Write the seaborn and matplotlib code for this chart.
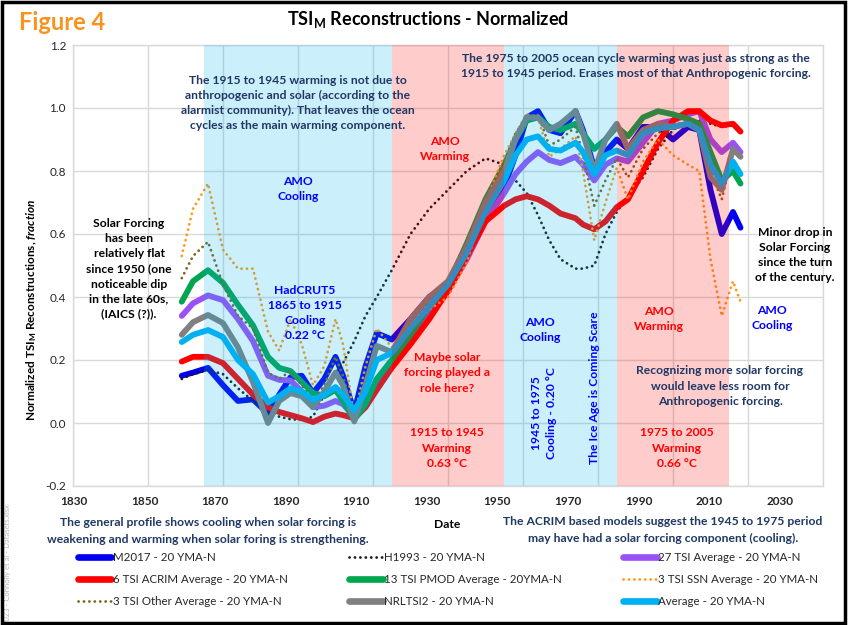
import matplotlib
matplotlib.use("Agg")
import matplotlib.pyplot as plt
import seaborn as sns
import numpy as np
import pandas as pd
from matplotlib.lines import Line2D
from matplotlib.patches import Rectangle

# ---------------- data ----------------
years = [1859, 1862, 1866, 1870, 1874, 1878, 1882, 1885, 1888, 1891, 1894, 1897,
         1900, 1902, 1905, 1908, 1911, 1915, 1920, 1925, 1930, 1935, 1940, 1945,
         1948, 1951, 1954, 1957, 1960, 1964, 1966, 1969, 1972, 1975, 1978, 1982,
         1986, 1990, 1994, 1997, 2000, 2003, 2006, 2008]

m2017 = [0.15, 0.16, 0.175, 0.12, 0.07, 0.075, 0.03, 0.09, 0.145, 0.15, 0.095, 0.14,
         0.21, 0.15, 0.035, 0.18, 0.285, 0.265, 0.33, 0.40, 0.44, 0.53, 0.66, 0.75,
         0.85, 0.97, 0.99, 0.93, 0.92, 0.99, 0.93, 0.81, 0.86, 0.90, 0.87, 0.94,
         0.94, 0.90, 0.94, 0.93, 0.74, 0.60, 0.67, 0.62]

h1993 = [0.14, 0.155, 0.168, 0.155, 0.11, 0.07, 0.04, 0.02, 0.012, 0.01, 0.02, 0.09,
         0.16, 0.19, 0.26, 0.34, 0.40, 0.485, 0.60, 0.68, 0.74, 0.80, 0.84, 0.82,
         0.77, 0.73, 0.66, 0.58, 0.52, 0.49, 0.49, 0.50, 0.60, 0.67, 0.72, 0.78,
         0.87, 0.93, 0.96, 0.96, 0.95, 0.94, 0.945, 0.93]

tsi27 = [0.34, 0.38, 0.405, 0.39, 0.33, 0.26, 0.15, 0.137, 0.135, 0.10, 0.05, 0.055,
         0.07, 0.06, 0.02, 0.07, 0.13, 0.19, 0.27, 0.34, 0.42, 0.52, 0.64, 0.73,
         0.79, 0.83, 0.86, 0.835, 0.825, 0.845, 0.82, 0.77, 0.82, 0.84, 0.83, 0.89,
         0.95, 0.96, 0.98, 0.99, 0.90, 0.86, 0.89, 0.86]

acrim = [0.195, 0.21, 0.21, 0.19, 0.14, 0.09, 0.05, 0.035, 0.025, 0.015, 0.003, 0.02,
         0.03, 0.025, 0.015, 0.05, 0.105, 0.175, 0.25, 0.33, 0.42, 0.53, 0.64, 0.69,
         0.71, 0.72, 0.71, 0.69, 0.665, 0.65, 0.63, 0.615, 0.64, 0.685, 0.71, 0.80,
         0.89, 0.96, 0.99, 0.99, 0.96, 0.945, 0.95, 0.925]

pmod = [0.385, 0.45, 0.485, 0.445, 0.375, 0.31, 0.21, 0.175, 0.165, 0.13, 0.095, 0.085,
        0.105, 0.07, 0.01, 0.06, 0.14, 0.20, 0.28, 0.37, 0.44, 0.57, 0.71, 0.82,
        0.90, 0.96, 0.97, 0.94, 0.93, 0.95, 0.92, 0.87, 0.90, 0.94, 0.91, 0.97,
        0.99, 0.98, 0.965, 0.95, 0.86, 0.77, 0.80, 0.76]

ssn = [0.53, 0.68, 0.76, 0.55, 0.49, 0.49, 0.29, 0.23, 0.33, 0.25, 0.12, 0.18,
       0.33, 0.25, 0.02, 0.18, 0.30, 0.24, 0.30, 0.36, 0.40, 0.51, 0.70, 0.85,
       0.92, 0.98, 0.97, 0.845, 0.87, 0.91, 0.80, 0.58, 0.70, 0.81, 0.71, 0.83,
       0.90, 0.85, 0.82, 0.80, 0.52, 0.34, 0.45, 0.385]

other = [0.46, 0.53, 0.575, 0.44, 0.34, 0.30, 0.16, 0.14, 0.165, 0.12, 0.07, 0.12,
         0.21, 0.15, 0.01, 0.12, 0.24, 0.23, 0.31, 0.38, 0.43, 0.55, 0.70, 0.83,
         0.92, 0.97, 0.98, 0.88, 0.90, 0.94, 0.85, 0.69, 0.77, 0.84, 0.78, 0.87,
         0.92, 0.95, 0.95, 0.94, 0.80, 0.71, 0.86, 0.845]

nrltsi2 = [0.28, 0.32, 0.343, 0.317, 0.24, 0.13, 0.0, 0.07, 0.095, 0.085, 0.05, 0.10,
           0.16, 0.12, 0.005, 0.12, 0.245, 0.225, 0.33, 0.40, 0.45, 0.56, 0.70, 0.80,
           0.90, 0.97, 0.97, 0.93, 0.95, 0.99, 0.92, 0.80, 0.90, 0.95, 0.87, 0.93,
           0.95, 0.94, 0.95, 0.93, 0.78, 0.74, 0.87, 0.845]

average = [0.257, 0.28, 0.295, 0.273, 0.20, 0.155, 0.065, 0.085, 0.11, 0.10, 0.073, 0.09,
           0.114, 0.09, 0.04, 0.10, 0.20, 0.222, 0.30, 0.37, 0.44, 0.54, 0.67, 0.77,
           0.85, 0.90, 0.91, 0.87, 0.865, 0.89, 0.86, 0.79, 0.85, 0.865, 0.85, 0.92,
           0.935, 0.94, 0.95, 0.93, 0.82, 0.76, 0.83, 0.79]

series_names = ["M2017 - 20 YMA-N", "H1993 - 20 YMA-N", "27 TSI Average - 20 YMA-N",
                "6 TSI ACRIM Average - 20 YMA-N", "13 TSI PMOD Average - 20YMA-N",
                "3 TSI SSN Average - 20 YMA-N", "3 TSI Other Average - 20 YMA-N",
                "NRLTSI2 - 20 YMA-N", "Average - 20 YMA-N"]
series_values = [m2017, h1993, tsi27, acrim, pmod, ssn, other, nrltsi2, average]

x_ticks = list(range(1830, 2031, 20))
y_ticks = [-0.2, 0.0, 0.2, 0.4, 0.6, 0.8, 1.0, 1.2]

# shaded AMO periods (start, end, kind)
bands = [(1865, 1915, "cool"), (1915, 1945, "warm"), (1945, 1975, "cool"), (1975, 2005, "warm")]

# ---------------- style ----------------
sns.set_theme(style="white")
plt.rcParams['font.family'] = ['Lato', 'DejaVu Sans']
plt.rcParams['mathtext.fontset'] = 'custom'
plt.rcParams['mathtext.rm'] = 'Lato:bold'
plt.rcParams['mathtext.bf'] = 'Lato:bold'
plt.rcParams['mathtext.it'] = 'Lato:italic:bold'

DOT = (0, (0.05, 1.9))
styles = [
    dict(color="#0000F0", lw=4.2, ls="-"),
    dict(color="#1a1a1a", lw=2.0, ls=DOT),
    dict(color="#9B51F5", lw=4.2, ls="-"),
    dict(color="#FF0000", lw=4.2, ls="-"),
    dict(color="#00A550", lw=4.2, ls="-"),
    dict(color="#FF9A1A", lw=2.0, ls=DOT),
    dict(color="#7F6420", lw=2.0, ls=DOT),
    dict(color="#808080", lw=4.2, ls="-"),
    dict(color="#00B0F0", lw=4.2, ls="-"),
]

W, H = 848, 625
fig = plt.figure(figsize=(W / 100, H / 100), dpi=100)
fig.patch.set_facecolor("white")
L, R, T, B = 73, 823, 45, 486
ax = fig.add_axes([L / W, 1 - B / H, (R - L) / W, (B - T) / H])

df = pd.DataFrame({"Date": years})
for name, vals, st in zip(series_names, series_values, styles):
    df[name] = vals
    sns.lineplot(data=df, x="Date", y=name, ax=ax, color=st["color"], lw=st["lw"],
                 linestyle=st["ls"], dash_capstyle="round", solid_capstyle="round",
                 solid_joinstyle="round", zorder=3, legend=False)

for s, e, kind in bands:
    ax.axvspan(s, e, color="#00B0F0" if kind == "cool" else "#FF0000",
               alpha=0.2, lw=0, zorder=4)

ax.set_xlim(1830, 2030)
ax.set_ylim(-0.2, 1.2)
ax.set_xticks(x_ticks)
ax.set_xticklabels([])
ax.set_yticks(y_ticks)
ax.set_yticklabels([f"{v:.1f}" for v in y_ticks], fontsize=8.5)
ax.tick_params(axis="both", length=0, pad=5)
ax.set_axisbelow(True)
ax.grid(True, color="#d9d9d9", lw=1)
for sp in ax.spines.values():
    sp.set_color("#d9d9d9")
    sp.set_linewidth(1)
ax.set_xlabel("")
ax.set_ylabel("")
ax.set_facecolor("white")

# tick labels as drawn in the original (slightly compressed scale)
ax2 = ax.twiny()
ax2.set_xlim(1829.7, 2042.3)
ax2.set_xticks(x_ticks)
ax2.set_xticklabels([str(t) for t in x_ticks], fontsize=8.5, fontweight="bold")
ax2.xaxis.set_ticks_position("bottom")
ax2.tick_params(axis="x", length=0, pad=7)
for sp in ax2.spines.values():
    sp.set_visible(False)
ax2.grid(False)


def ft(x, y, s, color="#1F3864", size=8.7, rot=0, weight="bold", ls=1.45, ha="center", **kw):
    fig.text(x / W, 1 - y / H, s, color=color, fontsize=size, rotation=rot,
             fontweight=weight, ha=ha, va="center", linespacing=ls,
             multialignment="center", zorder=6, **kw)


navy = "#1F3864"
red = "#FF0000"
blue = "#0000FF"

ft(62, 22, "Figure 4", color="#F7931E", size=17)
ft(428, 20, r"TSI$_\mathrm{M}$ Reconstructions - Normalized", color="black", size=13)
ft(32, 310, r"Normalized TSI$_\mathrm{M}$ Reconstructions, $\mathit{fraction}$",
   color="black", size=8.5, rot=90)
ft(447, 524, "Date", color="black", size=8.7)

ft(298, 103, "The 1915 to 1945 warming is not due to\nanthropogenic and solar (according to the\n"
   "alarmist community). That leaves the ocean\ncycles as the main warming component.", navy)
ft(636, 66, "The 1975 to 2005 ocean cycle warming was just as strong as the\n"
   "1915 to 1945 period. Erases most of that Anthropogenic forcing.", navy)
ft(445, 149, "AMO\nWarming", red)
ft(298, 189, "AMO\nCooling", blue)
ft(129, 269, "Solar Forcing\nhas been\nrelatively flat\nsince 1950 (one\nnoticeable dip\n"
   "in the late 60s,\n(IAICS (?)).", "black")
ft(305, 313, "HadCRUT5\n1865 to 1915\nCooling\n0.22 °C", blue)
ft(447, 373, "Maybe solar\nforcing played a\nrole here?", red)
ft(447, 448, "1915 to 1945\nWarming\n0.63 °C", red)
ft(540, 330, "AMO\nCooling", blue)
ft(544, 413, "1945 to 1975\nCooling - 0.20 °C", blue, rot=90)
ft(594, 388, "The Ice Age is Coming Scare", blue, rot=90)
ft(659, 319, "AMO\nWarming", red)
ft(795, 255, "Minor drop in\nSolar Forcing\nsince the turn\nof the century.", "black")
ft(772, 318, "AMO\nCooling", blue)
ft(720, 386, "Recognizing more solar forcing\nwould leave less room for\nAnthropogenic forcing.", navy)
ft(677, 448, "1975 to 2005\nWarming\n0.66 °C", red)
ft(208, 531, "The general profile shows cooling when solar forcing is\n"
   "weakening and warming when solar foring is strengthening.", navy, ls=1.6)
ft(663, 530, "The ACRIM based models suggest the 1945 to 1975 period\n"
   "may have had a solar forcing component (cooling).", navy, ls=1.6)
ft(8, 565, "2023 - Connolly et al - Datasets.xlsx", "#b5b5b5", size=5.5, rot=90, weight="normal")

# legend (row-major order as in the original)
handles = [Line2D([0], [0], color=st["color"], lw=st["lw"] + (0.6 if st["ls"] == "-" else 0),
                  linestyle=st["ls"], solid_capstyle="round", dash_capstyle="round")
           for st in styles]
order = [0, 3, 6, 1, 4, 7, 2, 5, 8]
leg = fig.legend([handles[i] for i in order], [series_names[i] for i in order],
                 ncol=3, loc="upper left", bbox_to_anchor=(78 / W, 1 - 552 / H),
                 frameon=False, fontsize=8.3, handlelength=2.9, handletextpad=0.15,
                 columnspacing=5.3, labelspacing=0.95, borderaxespad=0, borderpad=0)

fig.add_artist(Rectangle((0.002, 0.004), 0.995, 0.993, transform=fig.transFigure,
                         fill=False, edgecolor="black", lw=2.5, zorder=10))

fig.savefig("out.png", dpi=100, facecolor="white")
